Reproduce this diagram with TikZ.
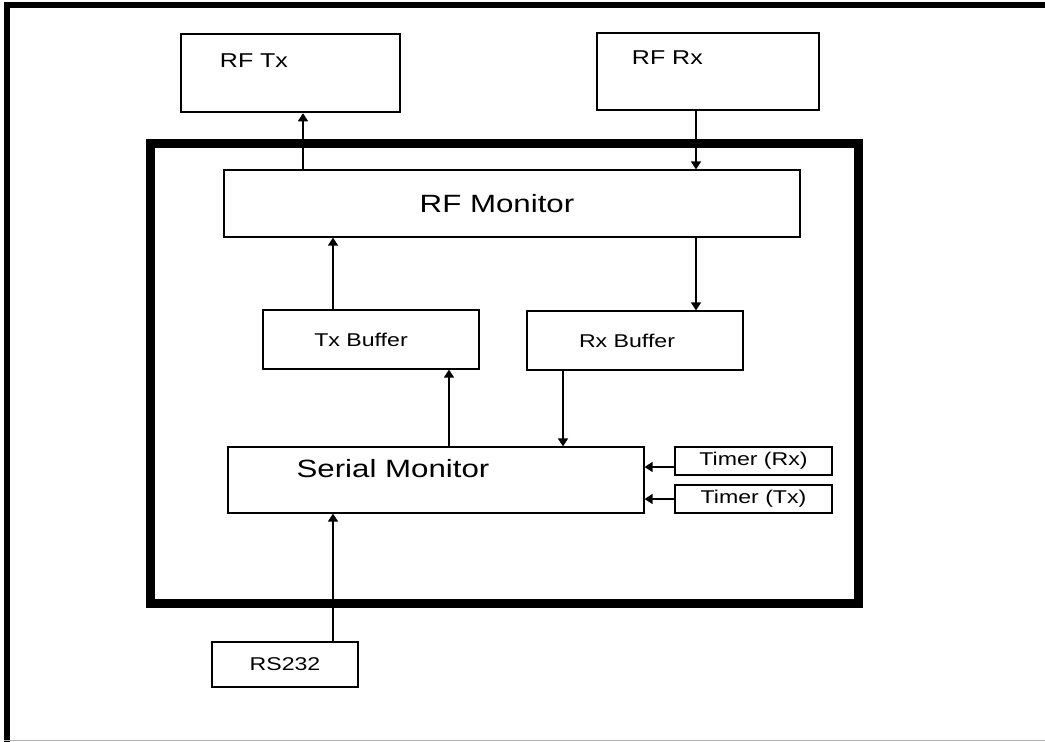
\documentclass[tikz,border=0pt]{standalone}
\usepackage{fontspec}
\setmainfont{Liberation Sans}[FakeStretch=1.25]
\usetikzlibrary{arrows.meta,positioning}

\begin{document}
\begin{tikzpicture}[x=1pt, y=-1pt,
    every node/.style={font=\fontsize{18.5}{22}\selectfont},
    blk/.style={draw, line width=1.2pt, inner sep=0pt},
    rfbox/.style={draw, line width=2.5pt, inner sep=0pt,
                  minimum width=219pt, minimum height=78pt},
    txt/.style={inner sep=0pt, font=\fontsize{20}{24}\selectfont},
    bigtxt/.style={font=\fontsize{25}{30}\selectfont},
    arr/.style={-{Triangle[length=8pt, width=10pt]}, line width=1.3pt},
  ]
  \useasboundingbox (0,0) rectangle (1045,742);

  % Page frame
  \draw[line width=6pt] (7,742) -- (7,5) -- (1045,5);
  \draw[gray!60, line width=1.5pt] (4,740.5) -- (1045,740.5);

  % Unit frame
  \draw[line width=8.5pt] (150.5,143.5) rectangle (858.5,603.5);

  % RF modules
  \node[rfbox] (rftx) at (290.5,73) {};
  \node[rfbox, minimum width=222pt, minimum height=77pt] (rfrx) at (708,71.5) {};
  \node[txt, below right=21pt and 40pt of rftx.north west] (rftxtext) {RF Tx};
  \node[txt, below right=19pt and 36pt of rfrx.north west] (rfrxtext) {RF Rx};

  % Inner blocks
  \node[blk, minimum width=576pt, minimum height=67pt] (rfmon) at (512,203.5) {};
  \node[txt, bigtxt, xshift=-15pt] (rfmontext) at (rfmon.center) {RF Monitor};
  \node[blk, minimum width=216pt, minimum height=59pt] (txbuf) at (371,339.5) {};
  \node[txt, font=\fontsize{18.5}{22}\selectfont, xshift=-10pt] (txbuftext) at (txbuf.center) {Tx Buffer};
  \node[blk, minimum width=216pt, minimum height=59pt] (rxbuf) at (635,340.5) {};
  \node[txt, font=\fontsize{18.5}{22}\selectfont, xshift=-8pt] (rxbuftext) at (rxbuf.center) {Rx Buffer};
  \node[blk, minimum width=416pt, minimum height=66pt] (sermon) at (436,480) {};
  \node[txt, bigtxt, below right=13pt and 69pt of sermon.north west] (sermontext) {Serial Monitor};
  \node[blk, minimum width=157pt, minimum height=28pt] (timrx) at (753.5,461) {Timer (Rx)};
  \node[blk, minimum width=157pt, minimum height=28pt] (timtx) at (753.5,499) {Timer (Tx)};
  \node[blk, minimum width=146pt, minimum height=45pt] (rs232) at (285,664.5) {RS232};

  % Arrows
  \draw[arr] (rfmon.north -| 303,0) -- (rftx.south -| 303,0);
  \draw[arr] (rfrx.south -| 696,0) -- (rfmon.north -| 696,0);
  \draw[arr] (txbuf.north -| 333,0) -- (rfmon.south -| 333,0);
  \draw[arr] (rfmon.south -| 696,0) -- (rxbuf.north -| 696,0);
  \draw[arr] (sermon.north -| 449,0) -- (txbuf.south -| 449,0);
  \draw[arr] (rxbuf.south -| 563,0) -- (sermon.north -| 563,0);
  \draw[arr] (timrx.west |- 0,467) -- (sermon.east |- 0,467);
  \draw[arr] (timtx.west) -- (sermon.east |- timtx.west);
  \draw[arr] (rs232.north -| 333,0) -- (sermon.south -| 333,0);
\end{tikzpicture}
\end{document}
